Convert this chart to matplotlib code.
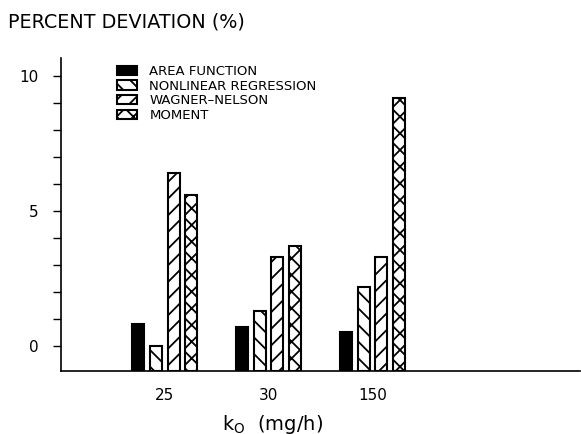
import matplotlib
matplotlib.use("Agg")
import matplotlib.pyplot as plt
import numpy as np
from matplotlib.ticker import MultipleLocator

plt.rcParams['font.family'] = ['DejaVu Sans']
plt.rcParams['hatch.linewidth'] = 1.3

groups = ["25", "30", "150"]
series = ["AREA FUNCTION", "NONLINEAR REGRESSION", "WAGNER\u2013NELSON", "MOMENT"]
area_function = [0.8, 0.7, 0.5]
nonlinear_regression = [0.0, 1.3, 2.2]
wagner_nelson = [6.4, 3.3, 3.3]
moment = [5.6, 3.7, 9.2]
values = [area_function, nonlinear_regression, wagner_nelson, moment]

fig = plt.figure(figsize=(5.81, 4.34), dpi=100)
ax = fig.add_axes([61/581, 63/434, 519/581, 313/434])

ymin, ymax = -0.93, 10.67
x = np.arange(1, len(groups) + 1)
step = 0.17
width = 0.115
styles = [dict(facecolor='black', hatch=None),
          dict(facecolor='white', hatch='\\\\'),
          dict(facecolor='white', hatch='//'),
          dict(facecolor='white', hatch='xx')]
for i, (vals, name, st) in enumerate(zip(values, series, styles)):
    v = np.array(vals)
    ax.bar(x + (i - 1.5) * step, v - ymin, width, bottom=ymin, label=name,
           facecolor=st['facecolor'], hatch=st['hatch'], edgecolor='black', linewidth=1.5)

ax.set_xlim(0, 5)
ax.set_ylim(ymin, ymax)
ax.spines['top'].set_visible(False)
ax.spines['right'].set_visible(False)
ax.spines['left'].set_linewidth(1.2)
ax.spines['bottom'].set_linewidth(1.2)
ax.set_yticks([0, 5, 10])
ax.yaxis.set_minor_locator(MultipleLocator(1))
ax.tick_params(axis='y', which='both', direction='out', length=6, width=1.0, labelsize=11, pad=10)
ax.set_xticks(x)
ax.set_xticklabels(groups)
ax.tick_params(axis='x', length=0, labelsize=11, pad=12)

leg = ax.legend(loc='upper left', bbox_to_anchor=(0.108, 0.978), frameon=False, fontsize=9.5,
                handlelength=1.5, handleheight=0.7, handletextpad=0.95, labelspacing=0.13,
                borderaxespad=0, borderpad=0)

fig.text(8/581, 1 - 22/434, "PERCENT DEVIATION (%)", fontsize=13.8, va='center', ha='left')
fig.text(273/581, 1 - 424/434, r"$\mathregular{k_O}$  (mg/h)", fontsize=14, va='center', ha='center')

fig.savefig("out.png", dpi=100)
